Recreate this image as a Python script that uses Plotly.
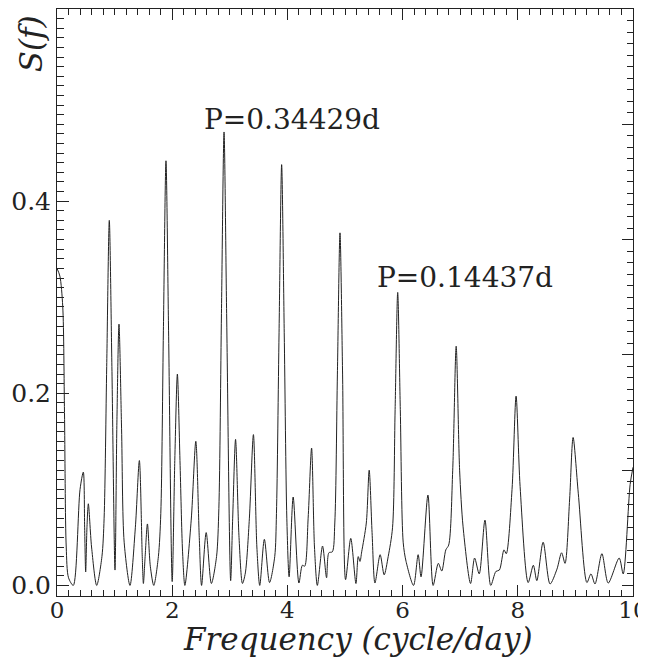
import plotly.graph_objects as go

# Periodogram S(f) vs frequency (cycle/day)
freq = [0.000, 0.050, 0.100, 0.130, 0.160, 0.200, 0.283, 0.400, 0.457, 0.480,
        0.498, 0.520, 0.544, 0.600, 0.689, 0.780, 0.818, 0.863, 0.908, 0.953,
        1.007, 1.040, 1.076, 1.121, 1.166, 1.267, 1.360, 1.430, 1.480, 1.500,
        1.530, 1.570, 1.620, 1.680, 1.760, 1.802, 1.847, 1.892, 1.937, 2.000,
        2.045, 2.090, 2.135, 2.180, 2.220, 2.330, 2.410, 2.470, 2.510, 2.590,
        2.680, 2.770, 2.810, 2.855, 2.900, 2.945, 3.015, 3.050, 3.100, 3.160,
        3.220, 3.270, 3.340, 3.410, 3.470, 3.520, 3.600, 3.690, 3.780, 3.810,
        3.855, 3.900, 3.945, 3.990, 4.030, 4.100, 4.200, 4.260, 4.300, 4.360,
        4.420, 4.470, 4.520, 4.610, 4.680, 4.720, 4.780, 4.823, 4.868, 4.913,
        4.958, 5.010, 5.100, 5.190, 5.230, 5.260, 5.290, 5.370, 5.420, 5.470,
        5.520, 5.610, 5.680, 5.750, 5.825, 5.870, 5.915, 5.960, 6.010, 6.060,
        6.190, 6.270, 6.320, 6.440, 6.530, 6.620, 6.680, 6.750, 6.800, 6.870,
        6.930, 6.990, 7.050, 7.180, 7.250, 7.330, 7.430, 7.530, 7.620, 7.680,
        7.760, 7.800, 7.900, 7.970, 8.040, 8.180, 8.270, 8.330, 8.440, 8.560,
        8.680, 8.760, 8.820, 8.900, 8.960, 9.050, 9.200, 9.270, 9.340, 9.460,
        9.570, 9.760, 9.830, 9.950, 10.00]
power = [0.330, 0.322, 0.290, 0.180, 0.040, 0.008, 0.000, 0.100, 0.118, 0.060,
         0.014, 0.060, 0.085, 0.040, 0.000, 0.030, 0.070, 0.228, 0.380, 0.228,
         0.016, 0.170, 0.272, 0.163, 0.045, 0.000, 0.060, 0.130, 0.030, 0.002,
         0.030, 0.064, 0.020, 0.000, 0.030, 0.075, 0.265, 0.442, 0.265, 0.004,
         0.130, 0.220, 0.130, 0.035, 0.000, 0.068, 0.150, 0.050, 0.000, 0.055,
         0.002, 0.030, 0.080, 0.283, 0.472, 0.283, 0.005, 0.070, 0.152, 0.050,
         0.002, 0.013, 0.070, 0.157, 0.040, 0.000, 0.048, 0.003, 0.030, 0.075,
         0.263, 0.438, 0.263, 0.070, 0.009, 0.092, 0.0025, 0.021, 0.020, 0.070,
         0.143, 0.040, 0.000, 0.041, 0.008, 0.034, 0.035, 0.065, 0.220, 0.367,
         0.220, 0.006, 0.049, 0.002, 0.030, 0.025, 0.035, 0.065, 0.120, 0.055,
         0.0025, 0.032, 0.011, 0.030, 0.060, 0.183, 0.305, 0.183, 0.045, 0.025,
         0.000, 0.032, 0.009, 0.094, 0.000, 0.023, 0.015, 0.037, 0.042, 0.120,
         0.249, 0.120, 0.061, 0.002, 0.0285, 0.012, 0.068, 0.000, 0.0146, 0.016,
         0.037, 0.033, 0.100, 0.197, 0.103, 0.003, 0.021, 0.005, 0.045, 0.0015,
         0.017, 0.034, 0.023, 0.090, 0.154, 0.096, 0.003, 0.012, 0.0015, 0.033,
         0.0025, 0.0285, 0.012, 0.105, 0.123]

x_tickvals = [0, 2, 4, 6, 8, 10]
x_ticktext = ["0", "2", "4", "6", "8", "10"]
y_tickvals = [0.0, 0.2, 0.4]
y_ticktext = ["0.0", "0.2", "0.4"]
y2_tickvals = [0.0, 0.12, 0.24, 0.36, 0.48, 0.60]

peak_labels = ["P=0.34429d", "P=0.14437d"]
peak_label_x = [2.51, 5.52]
peak_label_y = [0.485, 0.3205]

INK = "#222222"
SERIF = "DejaVu Serif"

fig = go.Figure()
fig.add_trace(go.Scatter(x=freq, y=power, mode="lines",
                         line=dict(color=INK, width=1, shape="spline", smoothing=0.8),
                         hoverinfo="skip", showlegend=False))
fig.add_trace(go.Scatter(x=freq, y=power, mode="lines", yaxis="y2",
                         line=dict(color="rgba(0,0,0,0)", width=0),
                         hoverinfo="skip", showlegend=False))

for t, xv, yv in zip(peak_labels, peak_label_x, peak_label_y):
    fig.add_annotation(x=xv, y=yv, text=t, showarrow=False, xanchor="left",
                       yanchor="middle", font=dict(family=SERIF, size=28, color=INK))

fig.add_annotation(xref="paper", yref="paper", x=0.522, y=-0.073,
                   text="Frequency (cycle/day)", showarrow=False,
                   xanchor="center", yanchor="middle",
                   font=dict(family=SERIF, size=31, color=INK, style="italic"))
fig.add_annotation(xref="paper", yref="paper", x=-0.045, y=0.94,
                   text="S(f)", showarrow=False, textangle=-90,
                   xanchor="center", yanchor="middle",
                   font=dict(family=SERIF, size=31, color=INK, style="italic"))

# the page body adds an 8px offset, so the figure is 8px smaller
fig.update_layout(
    width=638, height=649,
    margin=dict(l=49, r=13, t=1, b=61, autoexpand=False),
    paper_bgcolor="white", plot_bgcolor="white",
    xaxis=dict(range=[0, 10], tickvals=x_tickvals, ticktext=x_ticktext,
               automargin=False, ticklabeloverflow="allow", ticklabelstandoff=-7,
               ticks="inside", ticklen=11, tickcolor=INK, tickwidth=1,
               minor=dict(dtick=0.2, ticks="inside", ticklen=6, tickcolor=INK),
               showline=True, linecolor=INK, linewidth=1, mirror="ticks",
               showgrid=False, zeroline=False,
               tickfont=dict(family=SERIF, size=23, color=INK)),
    yaxis=dict(range=[-0.011, 0.6], tickvals=y_tickvals, ticktext=y_ticktext,
               automargin=False, ticklabeloverflow="allow",
               ticks="inside", ticklen=12, tickcolor=INK, tickwidth=1,
               minor=dict(dtick=0.01, ticks="inside", ticklen=7, tickcolor=INK),
               showline=True, linecolor=INK, linewidth=1, mirror=False,
               showgrid=False, zeroline=False,
               tickfont=dict(family=SERIF, size=25, color=INK)),
    yaxis2=dict(range=[-0.011, 0.6], overlaying="y", side="right",
                automargin=False,
                tickvals=y2_tickvals, showticklabels=False,
                ticks="inside", ticklen=11, tickcolor=INK, tickwidth=1,
                minor=dict(dtick=0.012, ticks="inside", ticklen=6, tickcolor=INK),
                showline=True, linecolor=INK, linewidth=1,
                showgrid=False, zeroline=False),
)

fig.write_html("out.html")
